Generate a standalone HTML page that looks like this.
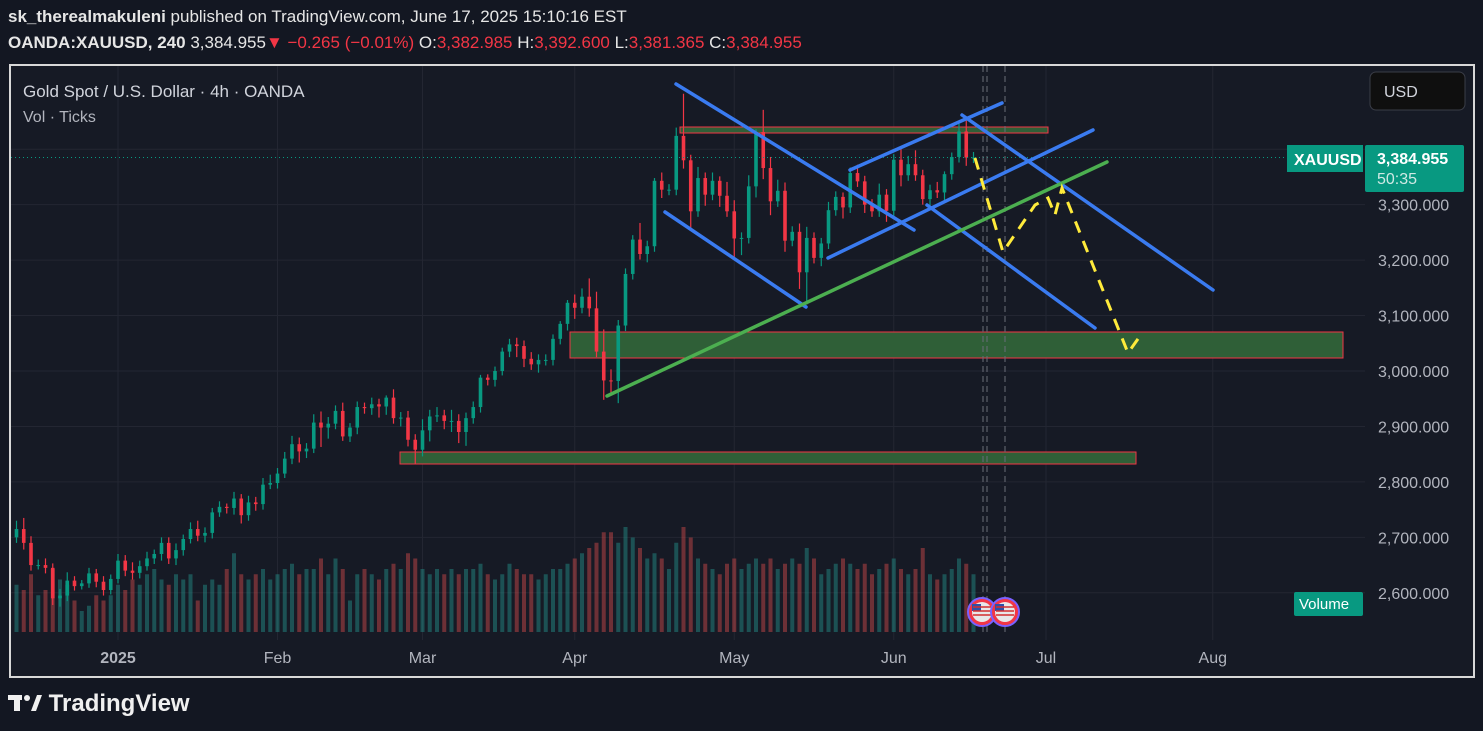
<!DOCTYPE html>
<html><head><meta charset="utf-8"><style>
html,body{margin:0;padding:0;background:#131722;width:1483px;height:731px;overflow:hidden;font-family:"Liberation Sans",sans-serif}
#hdr1{position:absolute;left:8px;top:7px;color:#e6e6e6;font-size:17px;font-weight:bold}
#hdr1 span{font-weight:normal}
#hdr2{position:absolute;left:8px;top:33px;color:#e6e6e6;font-size:17px;font-weight:bold;white-space:nowrap}
#hdr2 .r{color:#f23645;font-weight:normal}
#hdr2 .n{font-weight:normal}
#frame{position:absolute;left:9px;top:64px;width:1462px;height:610px;border:2px solid #d8d8d8;background:#161a25}
#logo{position:absolute;left:8px;top:690px;color:#f0f0f0;font-size:24px;font-weight:bold}
</style></head><body>
<div id="hdr1">sk_therealmakuleni <span>published on TradingView.com, June 17, 2025 15:10:16 EST</span></div>
<div id="hdr2">OANDA:XAUUSD, 240 <span class="n">3,384.955</span><span class="r">▼ −0.265 (−0.01%)</span> <span class="n">O:</span><span class="r">3,382.985</span> <span class="n">H:</span><span class="r">3,392.600</span> <span class="n">L:</span><span class="r">3,381.365</span> <span class="n">C:</span><span class="r">3,384.955</span></div>
<div id="frame"></div>
<svg id="chart" width="1483" height="731" style="position:absolute;left:0;top:0" xmlns="http://www.w3.org/2000/svg"></svg>
<div id="logo"><svg width="34" height="20" style="vertical-align:-2px"><rect x="0" y="2" width="14" height="5" fill="#f0f0f0"/><rect x="6" y="2" width="6" height="16" fill="#f0f0f0"/><circle cx="19" cy="5" r="3" fill="#f0f0f0"/><polygon points="23,18 29,2 34,2 28,18" fill="#f0f0f0"/></svg> TradingView</div>
<script>
const closes=[2715,2690,2650,2650,2645,2590,2595,2622,2612,2617,2635,2620,2605,2625,
2658,2640,2636,2648,2662,2670,2690,2662,2677,2697,2715,2703,2708,2745,2755,2753,2770,2740,2763,2760,2795,2798,
2815,2842,2868,2855,2860,2907,2898,2905,2928,2882,2898,2935,2933,2940,2936,2952,2915,2916,2876,2858,
2893,2918,2920,2910,2910,2890,2915,2935,2988,2984,3000,3035,3048,3045,3022,3012,3020,3020,3058,3085,3123,
3114,3134,3113,3035,2983,2982,3082,3175,3237,3211,3225,3343,3327,3327,3424,3380,3288,3348,3318,3343,3316,3288,
3239,3240,3333,3431,3366,3306,3325,3235,3251,3178,3240,3204,3230,3290,3314,3295,3357,3342,3300,3288,3318,3289,
3381,3353,3373,3353,3310,3326,3322,3355,3386,3432,3385,3385];
const wickUp=[15,20,12,10,12,8,12,15,8,6,10,8,10,8,
12,10,15,10,12,8,10,10,12,8,12,15,10,8,10,6,12,8,12,10,12,15,
10,12,15,12,10,15,20,12,10,15,8,10,8,12,10,4,15,10,12,10,
20,12,15,10,20,12,10,10,5,6,8,7,10,12,10,12,10,10,8,5,5,
15,15,33,30,40,20,10,10,8,30,10,5,15,10,15,76,10,20,10,15,8,25,
20,10,20,5,40,20,20,15,10,15,20,10,10,15,10,8,10,15,10,10,20,10,
10,20,15,25,10,10,15,5,8,14,20,10];
const wickDn=[10,12,10,8,10,12,15,10,8,6,8,10,10,8,
8,10,12,10,8,10,12,10,12,10,8,10,12,10,8,10,12,15,10,12,10,8,
10,8,10,20,12,8,35,20,10,8,10,12,10,12,20,15,10,15,12,26,
12,20,10,15,20,20,25,10,10,10,12,8,10,20,15,10,15,10,10,10,12,
20,10,15,10,35,26,40,10,10,10,15,10,15,10,10,15,30,10,20,10,20,10,
35,30,10,20,20,25,10,20,10,30,58,10,15,10,10,20,10,10,15,10,10,20,
10,20,10,10,10,15,10,15,10,10,15,10];
const volumes=[45,40,55,35,40,60,50,45,30,20,25,35,30,35,
45,40,50,45,55,60,50,45,55,50,55,30,45,50,45,60,75,55,50,55,60,50,
55,60,65,55,60,60,70,55,70,60,30,55,60,55,50,60,65,60,75,70,
60,55,60,55,60,55,60,60,65,55,50,55,65,60,55,55,50,55,60,60,65,
70,75,80,85,95,95,85,100,90,80,70,75,70,60,85,100,90,70,65,60,55,65,
70,60,65,70,65,70,60,65,70,65,80,70,55,60,65,70,65,60,65,55,60,65,
70,60,55,60,80,55,50,55,60,70,65,55];
const firstOpen=2700;
const priceTicks=[2600,2700,2800,2900,3000,3100,3200,3300,3400];
const monthLabels=["2025","Feb","Mar","Apr","May","Jun","Jul","Aug"];
const monthIdx=[14,36,56,77,99,121,142,165];
const lastPrice=3384.955;

const svg=document.getElementById('chart');
const NS="http://www.w3.org/2000/svg";
function X(i){return 118+(i-14)*7.25;}
function Y(p){return 371-(p-3000)*0.5545;}
function el(t,a,parent){const e=document.createElementNS(NS,t);for(const k in a)e.setAttribute(k,a[k]);(parent||svg).appendChild(e);return e;}

const grid=el('g',{});


priceTicks.forEach(p=>{el('line',{x1:11,x2:1365,y1:Y(p),y2:Y(p),stroke:'#232632','stroke-width':1},grid);});
monthIdx.forEach(i=>{el('line',{x1:X(i),x2:X(i),y1:66,y2:640,stroke:'#232632','stroke-width':1},grid);});

const vg=el('g',{});


closes.forEach((c,i)=>{
  const o=i?closes[i-1]:firstOpen;
  const h=volumes[i]*1.05;
  const r=el('rect',{x:X(i)-2,y:632-h,width:4,height:h,fill:c>=o?'rgba(38,166,154,0.4)':'rgba(239,83,80,0.4)'},vg);
  
  
});

const zones=[[680,1048,127,133],[570,1343,332,358],[400,1136,452,464]];
zones.forEach(z=>{
  const r=el('rect',{x:z[0],y:z[2],width:z[1]-z[0],height:z[3]-z[2],fill:'#2f5f37',stroke:'#f23645','stroke-width':1});
  
  
});

const cg=el('g',{});


closes.forEach((c,i)=>{
  const o=i?closes[i-1]:firstOpen;
  const up=c>=o, col=up?'#089981':'#f23645';
  const hi=Math.max(o,c)+wickUp[i], lo=Math.min(o,c)-wickDn[i];
  const x=X(i);
  const w=el('line',{x1:x,x2:x,y1:Y(hi),y2:Y(lo),stroke:col,'stroke-width':1.2},cg);
  
  
  const b=el('rect',{x:x-1.8,y:Y(Math.max(o,c)),width:3.6,height:Math.max(1,Math.abs(Y(o)-Y(c))),fill:col},cg);
  
  
});

const lp=el('line',{x1:11,x2:1287,y1:Y(lastPrice),y2:Y(lastPrice),stroke:'#089981','stroke-width':1,'stroke-dasharray':'1 3'});



[983,987,1005].forEach(x=>{
  const v=el('line',{x1:x,x2:x,y1:66,y2:632,stroke:'#6a6d78','stroke-width':1,'stroke-dasharray':'6 4'});
  
  
});

const blue=[[676,84,914,230],[665,212,806,307],[850,170,1002,103],[828,258,1093,130],[962,115,1213,290],[927,205,1095,328]];
blue.forEach(l=>{
  const e=el('line',{x1:l[0],y1:l[1],x2:l[2],y2:l[3],stroke:'#3a7bf0','stroke-width':3.5,'stroke-linecap':'round'});
  
  
});
const gl=el('line',{x1:607,y1:396,x2:1107,y2:162,stroke:'#4caf50','stroke-width':3.5,'stroke-linecap':'round'});


const yp=el('polyline',{points:'975,158 1003,252 1035,205 1048,198 1055,215 1062,188 1128,353 1140,336',fill:'none',stroke:'#ffeb3b','stroke-width':3,'stroke-dasharray':'12 9'});



[982,1005].forEach(x=>{
  const g=el('g',{});
  
  
  el('circle',{cx:x,cy:612,r:14,fill:'#f23645',stroke:'#7b61ff','stroke-width':2},g);
  el('circle',{cx:x,cy:612,r:10,fill:'#e8e8e8'},g);
  el('rect',{x:x-10,y:604,width:9,height:7,fill:'#2f4fa8'},g);
  [607,611,615].forEach(yy=>el('line',{x1:x-9,x2:x+9,y1:yy,y2:yy,stroke:'#d32f2f','stroke-width':1.5},g));
});

priceTicks.forEach(p=>{
  if(p===3400)return;
  const t=el('text',{x:1378,y:Y(p)+6,fill:'#b2b5be','font-size':16,'font-family':'Liberation Sans, sans-serif'});
  t.textContent=p.toLocaleString('en-US')+'.000';
  
  
});
monthLabels.forEach((m,k)=>{
  const t=el('text',{x:X(monthIdx[k]),y:663,fill:'#b2b5be','font-size':16,'text-anchor':'middle','font-weight':m==='2025'?'bold':'normal','font-family':'Liberation Sans, sans-serif'});
  t.textContent=m;
  
  
});

const l1=el('text',{x:23,y:97,fill:'#d1d4dc','font-size':17,'font-family':'Liberation Sans, sans-serif'});
l1.textContent='Gold Spot / U.S. Dollar · 4h · OANDA';


const l2=el('text',{x:23,y:122,fill:'#b2b5be','font-size':16,'font-family':'Liberation Sans, sans-serif'});
l2.textContent='Vol · Ticks';



const ub=el('g',{});


el('rect',{x:1370,y:72,width:95,height:38,rx:6,fill:'#0f0f0f',stroke:'#3a3d47'},ub);
const ut=el('text',{x:1384,y:97,fill:'#d1d4dc','font-size':16,'font-family':'Liberation Sans, sans-serif'},ub);ut.textContent='USD';

const st=el('g',{});


el('rect',{x:1287,y:145,width:76,height:27,fill:'#089981'},st);
const stt=el('text',{x:1294,y:165,fill:'#fff','font-size':16,'font-weight':'bold','font-family':'Liberation Sans, sans-serif'},st);stt.textContent='XAUUSD';
const pt=el('g',{});


el('rect',{x:1365,y:145,width:99,height:47,rx:2,fill:'#089981'},pt);
const pt1=el('text',{x:1377,y:164,fill:'#fff','font-size':16,'font-weight':'bold','font-family':'Liberation Sans, sans-serif'},pt);pt1.textContent='3,384.955';
const pt2=el('text',{x:1377,y:184,fill:'#cfe9e4','font-size':16,'font-family':'Liberation Sans, sans-serif'},pt);pt2.textContent='50:35';
const vt=el('g',{});


el('rect',{x:1294,y:592,width:69,height:24,rx:2,fill:'#089981'},vt);
const vtt=el('text',{x:1299,y:609,fill:'#fff','font-size':15,'font-family':'Liberation Sans, sans-serif'},vt);vtt.textContent='Volume';
</script>
</body></html>
